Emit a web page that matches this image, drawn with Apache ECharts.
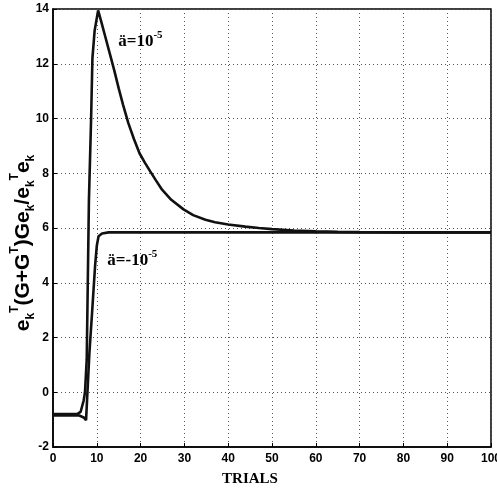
<!DOCTYPE html>
<html>
<head>
<meta charset="utf-8">
<script src="https://cdn.jsdelivr.net/npm/echarts@6.0.0/dist/echarts.min.js"></script>
<style>
	html, body { margin: 0; padding: 0; background: #fff; }
	#chart { width: 497px; height: 496px; }
</style>
</head>
<body>
<div id="chart"></div>
<script>
// ä = 10^-5
const trialsA = [0, 5.5, 6.3, 7.0, 7.3, 7.7, 8.2, 8.7, 9.0, 9.5, 10.3, 11, 12, 13, 14, 15, 16, 17.2, 18.5, 19.75, 21, 22.2, 23.5, 24.9, 27, 29.8, 32, 34.8, 37, 40, 43.9, 47, 50, 55, 60, 65, 70, 80, 90, 100];
const valuesA = [-0.8, -0.8, -0.72, -0.3, 0.0, 1.2, 7.0, 10.0, 12.2, 13.2, 13.95, 13.55, 12.95, 12.35, 11.75, 11.1, 10.5, 9.83, 9.24, 8.73, 8.38, 8.07, 7.74, 7.4, 7.03, 6.68, 6.47, 6.30, 6.21, 6.13, 6.05, 6.0, 5.96, 5.91, 5.88, 5.86, 5.85, 5.84, 5.84, 5.84];
// ä = -10^-5
const trialsB = [0, 6.0, 7.0, 7.55, 8.3, 9.0, 9.6, 10.0, 10.4, 11.2, 12.7, 100];
const valuesB = [-0.85, -0.85, -0.92, -1.02, 1.4, 3.1, 4.6, 5.35, 5.7, 5.8, 5.84, 5.84];

const xTicks = [0, 100, 10];
const yTicks = [-2, 14, 2];
// label anchors (data coords)
const labelA = [14.9, 12.8];
const labelB = [12.4, 4.8];

const chart = echarts.init(document.getElementById('chart'));

const tickFont = {
	color: '#000',
	fontSize: 12,
	fontWeight: 'bold',
	fontFamily: '"Liberation Sans Narrow", "Arial Narrow", "Liberation Sans", sans-serif'
};
const lineColor = '#111';

const ySup = { fontSize: 12, fontWeight: 'bold', verticalAlign: 'top', lineHeight: 12, fontFamily: '"Liberation Sans", Arial, sans-serif' };
const ySub = { fontSize: 12, fontWeight: 'bold', verticalAlign: 'bottom', lineHeight: 12, fontFamily: '"Liberation Sans", Arial, sans-serif' };
const yMain = { fontSize: 21, fontWeight: 'bold', lineHeight: 28, fontFamily: '"Liberation Sans", Arial, sans-serif', color: '#000' };

const noteRich = {
	m: { fontSize: 17, fontWeight: 'bold', fontFamily: '"Liberation Serif", "Times New Roman", serif', color: '#000', lineHeight: 24 },
	s: { fontSize: 11, fontWeight: 'bold', fontFamily: '"Liberation Serif", "Times New Roman", serif', color: '#000', verticalAlign: 'top', lineHeight: 11 }
};

function pairs(xs, ys) {
	return xs.map((x, i) => [x, ys[i]]);
}

function note(coord, text) {
	return {
		coord: coord,
		symbol: 'circle',
		symbolSize: 0,
		label: {
			show: true,
			position: [0, 0],
			align: 'left',
			verticalAlign: 'middle',
			formatter: text,
			rich: noteRich
		}
	};
}

const option = {
	animation: false,
	backgroundColor: '#fff',
	grid: {
		left: 53, right: 6, top: 9, bottom: 49,
		containLabel: false,
		outerBoundsMode: 'none',
		show: true,
		borderColor: '#000',
		borderWidth: 1.5,
		backgroundColor: 'transparent'
	},
	xAxis: {
		type: 'value',
		min: xTicks[0], max: xTicks[1], interval: xTicks[2],
		name: 'TRIALS',
		nameLocation: 'middle',
		nameGap: 25,
		nameMoveOverlap: false,
		nameTextStyle: {
			fontSize: 15,
			fontWeight: 'bold',
			fontFamily: '"Liberation Serif", "Times New Roman", serif',
			color: '#000',
			padding: [0, 44, 0, 0]
		},
		axisLine: { show: true, onZero: false, lineStyle: { color: '#000', width: 1.5 } },
		axisTick: { show: true, inside: true, length: 4, lineStyle: { color: '#000' } },
		axisLabel: Object.assign({ margin: 6 }, tickFont),
		splitLine: { show: true, lineStyle: { color: '#555', type: [1, 3], width: 1 } }
	},
	yAxis: {
		type: 'value',
		min: yTicks[0], max: yTicks[1], interval: yTicks[2],
		name: '{m|e}{b|k}{t|T}{m|(G+G}{t|T}{m|)Ge}{b|k}{m|/e}{b|k}{t|T}{m|e}{b|k}',
		nameLocation: 'middle',
		nameRotate: 90,
		nameGap: 16,
		nameMoveOverlap: false,
		nameTextStyle: {
			rich: { m: yMain, t: ySup, b: ySub },
			padding: [0, 30, 0, 0]
		},
		axisLine: { show: true, onZero: false, lineStyle: { color: '#000', width: 1.5 } },
		axisTick: { show: true, inside: true, length: 4, lineStyle: { color: '#000' } },
		axisLabel: Object.assign({ margin: 4 }, tickFont),
		splitLine: { show: true, lineStyle: { color: '#555', type: [1, 3], width: 1 } }
	},
	series: [
		{
			name: 'a=1e-5',
			type: 'line',
			data: pairs(trialsA, valuesA),
			showSymbol: false,
			lineStyle: { color: lineColor, width: 2.6 },
			z: 3,
			markPoint: {
				silent: true,
				data: [note(labelA, '{m|ä=10}{s|-5}')]
			}
		},
		{
			name: 'a=-1e-5',
			type: 'line',
			data: pairs(trialsB, valuesB),
			showSymbol: false,
			lineStyle: { color: lineColor, width: 2.6 },
			z: 3,
			markPoint: {
				silent: true,
				data: [note(labelB, '{m|ä=-10}{s|-5}')]
			}
		}
	]
};

chart.setOption(option);
window.addEventListener('resize', () => {
	chart.resize();
});
</script>
</body>
</html>
